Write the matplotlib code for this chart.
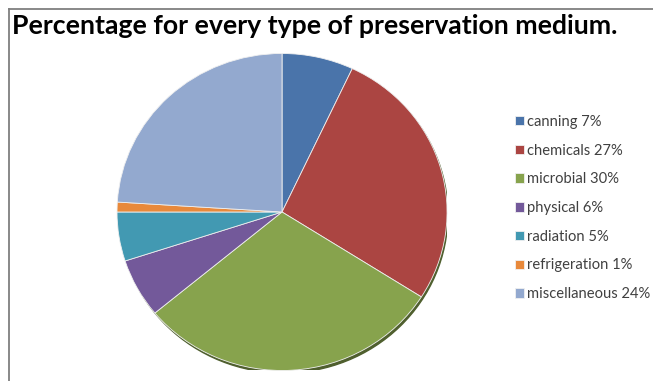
import matplotlib
matplotlib.use("Agg")
from matplotlib import pyplot as plt
from matplotlib.lines import Line2D
from matplotlib.patches import Ellipse

labels = ['canning', 'chemicals', 'microbial', 'physical', 'radiation', 'refrigeration', 'miscellaneous']
values = [7, 27, 30, 6, 5, 1, 24]
colors = ['#4A74AA', '#AB4542', '#87A34D', '#73599A', '#4299B2', '#E8893B', '#93A9CF']

plt.rcParams['font.family'] = ['Lato', 'DejaVu Sans']

fig = plt.figure(figsize=(6.53, 3.81), dpi=100)
fig.patch.set_facecolor('white')

ax = fig.add_axes([0.1792, 0.0276, 0.5054, 0.832])
# thin dark shadow under the pie
ax.add_patch(Ellipse((0.01, -0.016), 1.99, 2.0, color='#4f5f2e', zorder=0))
wedges, _ = ax.pie(values, colors=colors, startangle=90, counterclock=False,
                   wedgeprops=dict(linewidth=0.6, edgecolor='#f0f0f0', zorder=2))
ax.set_aspect('auto')
ax.set_xlim(-1.0, 1.0)
ax.set_ylim(-1.0, 1.0)
ax.axis('off')

fig.text(12 / 653, 1 - 26 / 381, 'Percentage for every type of preservation medium.',
         fontsize=19.2, fontweight='bold', ha='left', va='center', color='black')

leg_labels = ['%s %d%%' % (l, v) for l, v in zip(labels, values)]
leg = fig.legend(wedges, leg_labels, loc='upper left', bbox_to_anchor=(509 / 653, 1 - 109 / 381),
                 frameon=False, fontsize=10.6, labelspacing=1.0, handlelength=0.6,
                 handleheight=0.6, handletextpad=0.25, borderaxespad=0)
for t in leg.get_texts():
    t.set_color('#404040')

# frame lines (top and left)
fig.add_artist(Line2D([9 / 653, 9 / 653], [0, 1 - 9 / 381], color='#7f7f7f', linewidth=1.3,
                      transform=fig.transFigure))
fig.add_artist(Line2D([9 / 653, 1], [1 - 9 / 381, 1 - 9 / 381], color='#7f7f7f', linewidth=1.3,
                      transform=fig.transFigure))

fig.savefig('out.png', dpi=100)
